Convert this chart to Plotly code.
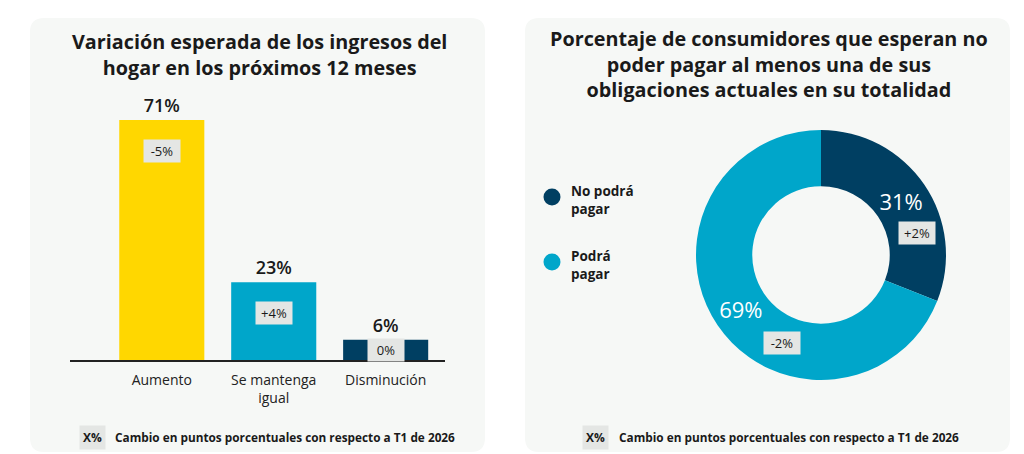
import plotly.graph_objects as go

W, H = 1024, 454

# ---------------- data ----------------
bar_categories = ["Aumento", "Se mantenga<br>igual", "Disminución"]
bar_values = [71, 23, 6]
bar_changes = ["-5%", "+4%", "0%"]

pie_labels = ["No podrá<br>pagar", "Podrá<br>pagar"]
pie_values = [31, 69]
pie_changes = ["+2%", "-2%"]

title_left = "Variación esperada de los ingresos del<br>hogar en los próximos 12 meses"
title_right = ("Porcentaje de consumidores que esperan no<br>poder pagar al menos una de sus"
               "<br>obligaciones actuales en su totalidad")
footnote = "Cambio en puntos porcentuales con respecto a T1 de 2026"

# ---------------- styles ----------------
FONT = "Open Sans"
bar_colors = ["#FFD700", "#00A6CA", "#003F62"]
pie_colors = ["#003F62", "#00A6CA"]
PANEL = "#F6F8F6"
BOX = "#E4E6E4"
TXT = "#1A1A1A"


def px(x):
    return x / W


def py(y):
    return 1 - y / H


def rrect(x0, y0, x1, y1, r):
    X0, X1 = px(x0), px(x1)
    Y0, Y1 = py(y0), py(y1)
    rx, ry = r / W, r / H
    return (f"M{X0+rx},{Y0} L{X1-rx},{Y0} Q{X1},{Y0} {X1},{Y0-ry} "
            f"L{X1},{Y1+ry} Q{X1},{Y1} {X1-rx},{Y1} L{X0+rx},{Y1} "
            f"Q{X0},{Y1} {X0},{Y1+ry} L{X0},{Y0-ry} Q{X0},{Y0} {X0+rx},{Y0} Z")


fig = go.Figure()

# ---------------- bar chart ----------------
fig.add_trace(go.Bar(
    x=bar_categories, y=bar_values,
    marker=dict(color=bar_colors, line=dict(width=0)),
    width=0.76,
    text=[f"{v}%" for v in bar_values],
    textposition="outside",
    textfont=dict(family=FONT, size=18, color=TXT, weight=600),
    cliponaxis=False,
    hoverinfo="skip",
    xaxis="x", yaxis="y",
))

# y-axis: 0 at y=360px, 80 at y=89.6px
y_lo_px, y_hi_px = 360, 360 - 80 * 3.38
fig.update_layout(
    xaxis=dict(domain=[px(70), px(445)], range=[-0.82, 2.53],
               showline=True, linecolor="#222", linewidth=1.5,
               showgrid=False, zeroline=False, ticks="",
               ticklabelstandoff=6,
               tickfont=dict(family=FONT, size=14, color="#222"),
               fixedrange=True),
    yaxis=dict(domain=[py(y_lo_px), py(y_hi_px)], range=[0, 80],
               visible=False, fixedrange=True),
)

px_per_unit = 3.38
annotations = []
for cat, v, ch in zip(bar_categories, bar_values, bar_changes):
    hpx = v * px_per_unit
    shift = -min(31, hpx / 2)
    annotations.append(dict(
        x=cat, y=v, xref="x", yref="y", yshift=shift,
        text=ch, showarrow=False,
        font=dict(family=FONT, size=13, color=TXT, weight=500),
        bgcolor=BOX, borderpad=4, width=28, height=14,
        xanchor="center", yanchor="middle",
    ))

# ---------------- donut ----------------
fig.add_trace(go.Pie(
    labels=pie_labels, values=pie_values,
    marker=dict(colors=pie_colors, line=dict(width=0)),
    hole=0.55, sort=False, direction="clockwise", rotation=0,
    textinfo="text", text=[f"{v}%" for v in pie_values],
    textposition="inside", insidetextorientation="horizontal",
    textfont=dict(family=FONT, size=22, color="white"),
    domain=dict(x=[px(696), px(946)], y=[py(380), py(130)]),
    showlegend=False, hoverinfo="skip",
))

for ch, (x, y) in zip(pie_changes, [(917, 233), (782, 343)]):
    annotations.append(dict(
        x=px(x), y=py(y), xref="paper", yref="paper",
        text=ch, showarrow=False,
        font=dict(family=FONT, size=13, color=TXT, weight=500),
        bgcolor=BOX, borderpad=4, width=28, height=14,
        xanchor="center", yanchor="middle",
    ))

# ---------------- shapes (panels, legend dots) ----------------
shapes = [
    dict(type="path", path=rrect(30, 18, 485, 452, 14), xref="paper", yref="paper",
         fillcolor=PANEL, line=dict(width=0), layer="below"),
    dict(type="path", path=rrect(525, 18, 1010, 452, 14), xref="paper", yref="paper",
         fillcolor=PANEL, line=dict(width=0), layer="below"),
]
for col, yc in zip(pie_colors, [197, 262]):
    r = 8.5
    shapes.append(dict(type="circle", xref="paper", yref="paper",
                       x0=px(552 - r), x1=px(552 + r), y0=py(yc + r), y1=py(yc - r),
                       fillcolor=col, line=dict(width=0)))

for lab, yc in zip(pie_labels, [197, 262]):
    annotations.append(dict(
        x=px(569), y=py(yc + 3), xref="paper", yref="paper",
        text=f"<b>{lab}</b>", showarrow=False, align="left",
        font=dict(family=FONT, size=13.5, color=TXT),
        xanchor="left", yanchor="middle",
    ))

# titles
annotations.append(dict(
    x=px(259), y=py(55), xref="paper", yref="paper",
    text=f"<b>{title_left}</b>", showarrow=False, align="center",
    font=dict(family=FONT, size=19.8, color=TXT),
    xanchor="center", yanchor="middle",
))
annotations.append(dict(
    x=px(769), y=py(64), xref="paper", yref="paper",
    text=f"<b>{title_right}</b>", showarrow=False, align="center",
    font=dict(family=FONT, size=19.8, color=TXT),
    xanchor="center", yanchor="middle",
))

# footnotes
for bx, tx in [(92, 113), (595, 617)]:
    annotations.append(dict(
        x=px(bx), y=py(437), xref="paper", yref="paper",
        text="<b>X%</b>", showarrow=False,
        font=dict(family=FONT, size=12, color=TXT),
        bgcolor=BOX, borderpad=3, xanchor="center", yanchor="middle",
    ))
    annotations.append(dict(
        x=px(tx), y=py(437), xref="paper", yref="paper",
        text=f"<b>{footnote}</b>", showarrow=False,
        font=dict(family=FONT, size=11.8, color=TXT),
        xanchor="left", yanchor="middle",
    ))

fig.update_layout(
    width=W, height=H,
    margin=dict(l=0, r=0, t=0, b=0),
    paper_bgcolor="white", plot_bgcolor="rgba(0,0,0,0)",
    showlegend=False,
    shapes=shapes, annotations=annotations,
    font=dict(family=FONT),
)

fig.write_html("out.html", config={"displayModeBar": False})
